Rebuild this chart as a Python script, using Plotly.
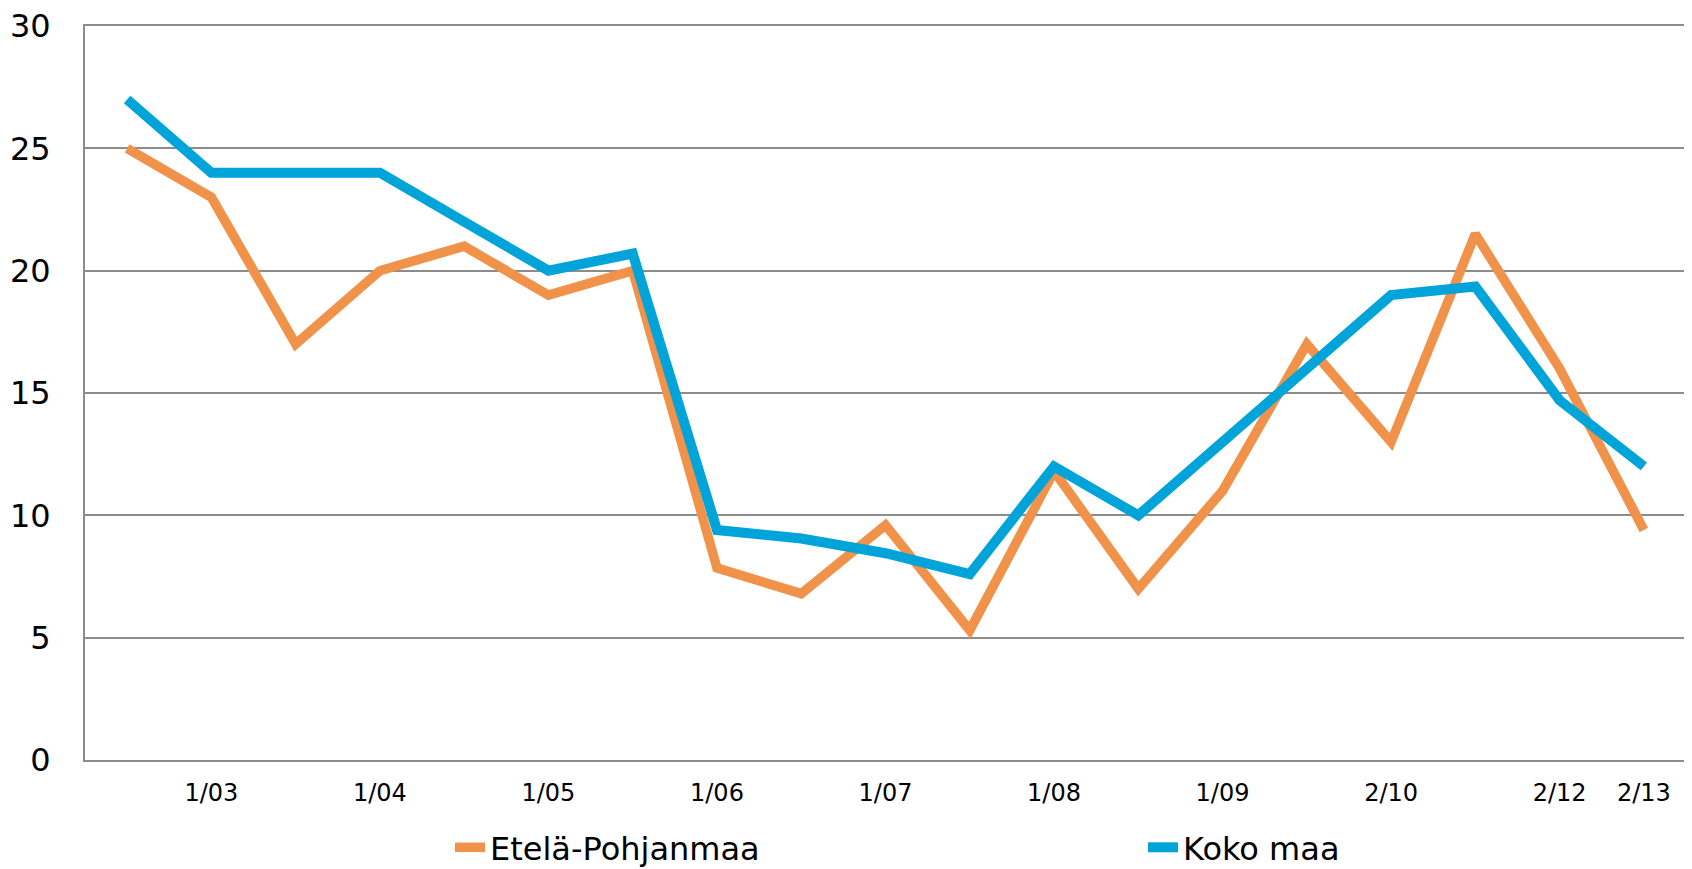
import plotly.graph_objects as go

periods = ["2/02", "1/03", "2/03", "1/04", "2/04", "1/05", "2/05", "1/06", "2/06",
           "1/07", "2/07", "1/08", "2/08", "1/09", "1/10", "2/10", "2/11", "2/12", "2/13"]
shown_labels = ["1/03", "1/04", "1/05", "1/06", "1/07", "1/08", "1/09", "2/10", "2/12", "2/13"]

etela_pohjanmaa = [25, 23, 17, 20, 21, 19, 20, 7.85, 6.8, 9.6, 5.3, 11.8, 7, 11, 17, 13, 21.5, 16, 9.4]
koko_maa = [27, 24, 24, 24, 22, 20, 20.7, 9.4, 9.05, 8.45, 7.6, 12, 10, 13, 16, 19, 19.35, 14.7, 12]

y_ticks = [0, 5, 10, 15, 20, 25, 30]

# page has an 8px body margin, so the figure is sized to fit the window
W, H = 1684, 861
ML, MR, MT, MB = 77, 6, 18, 109

fig = go.Figure()
fig.add_trace(go.Scatter(x=periods, y=etela_pohjanmaa, mode="lines", name="Etelä-Pohjanmaa",
                         line=dict(color="#F0924A", width=9.5)))
fig.add_trace(go.Scatter(x=periods, y=koko_maa, mode="lines", name="Koko maa",
                         line=dict(color="#00A4D9", width=10)))

font_family = "DejaVu Sans"
fig.update_layout(
    width=W, height=H,
    margin=dict(l=ML, r=MR, t=MT, b=MB, autoexpand=False),
    paper_bgcolor="white", plot_bgcolor="white",
    font=dict(family=font_family, color="black"),
    showlegend=True,
    legend=dict(orientation="h", xref="container", yref="container",
                x=442 / W, y=1 - 812 / H, xanchor="left", yanchor="top",
                font=dict(size=32, family=font_family, color="black"),
                entrywidth=648, entrywidthmode="pixels",
                bgcolor="rgba(0,0,0,0)"),
    xaxis=dict(type="category", categoryorder="array", categoryarray=periods,
               range=[-0.5, len(periods) - 0.5], automargin=False,
               tickmode="array", tickvals=shown_labels, ticktext=shown_labels,
               showgrid=False, ticks="", ticklabelstandoff=10,
               ticklabeloverflow="allow",
               tickfont=dict(size=24, family=font_family, color="black"),
               showline=True, linecolor="#8c8c8c", linewidth=2, mirror=True,
               zeroline=False),
    yaxis=dict(range=[0, 30], tickmode="array", tickvals=y_ticks, automargin=False,
               ticktext=[str(v) for v in y_ticks],
               showgrid=True, gridcolor="#8c8c8c", gridwidth=1.5,
               ticks="", ticklabelstandoff=26,
               ticklabeloverflow="allow",
               tickfont=dict(size=32, family=font_family, color="black"),
               showline=True, linecolor="#8c8c8c", linewidth=2, mirror=True,
               zeroline=False),
)

fig.write_html("out.html")
